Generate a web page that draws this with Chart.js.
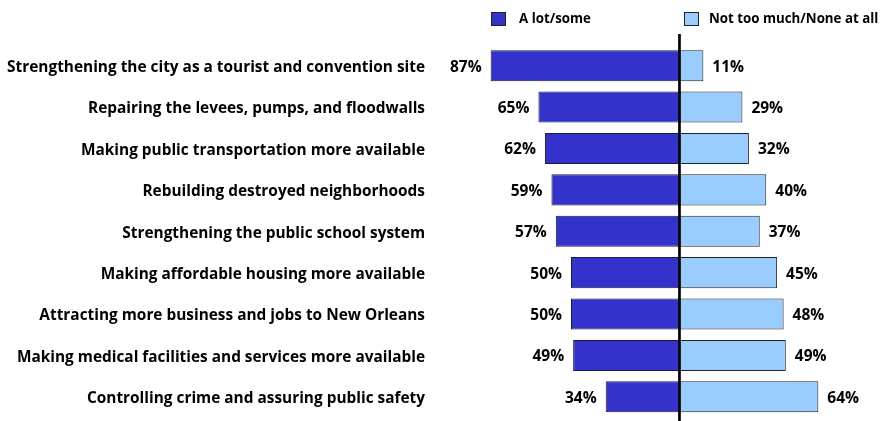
<!DOCTYPE html>
<html>
<head>
<meta charset="utf-8">
<script src="https://cdn.jsdelivr.net/npm/chart.js@4/dist/chart.umd.min.js"></script>
<style>
  html, body { margin: 0; padding: 0; background: #fff; }
  #wrap { width: 883px; height: 421px; }
</style>
</head>
<body>
<div id="wrap"><canvas id="chart"></canvas></div>
<script>
const categories = [
  'Strengthening the city as a tourist and convention site',
  'Repairing the levees, pumps, and floodwalls',
  'Making public transportation more available',
  'Rebuilding destroyed neighborhoods',
  'Strengthening the public school system',
  'Making affordable housing more available',
  'Attracting more business and jobs to New Orleans',
  'Making medical facilities and services more available',
  'Controlling crime and assuring public safety'
];
const aLotSome = [87, 65, 62, 59, 57, 50, 50, 49, 34];
const notMuchNone = [11, 29, 32, 40, 37, 45, 48, 49, 64];
const seriesNames = ['A lot/some', 'Not too much/None at all'];

const FONT = '"Open Sans", sans-serif';

// value labels next to each bar
const valueLabels = {
  id: 'valueLabels',
  afterDatasetsDraw(chart) {
    const ctx = chart.ctx;
    ctx.save();
    ctx.font = 'bold 15.5px ' + FONT;
    ctx.fillStyle = '#000';
    ctx.textBaseline = 'middle';
    chart.data.datasets.forEach((ds, i) => {
      chart.getDatasetMeta(i).data.forEach((bar, j) => {
        const v = Math.abs(ds.data[j]) + '%';
        if (ds.data[j] < 0) {
          ctx.textAlign = 'right';
          ctx.fillText(v, bar.x - 9, bar.y + 1.5);
        } else {
          ctx.textAlign = 'left';
          ctx.fillText(v, bar.x + 9, bar.y + 1.5);
        }
      });
    });
    ctx.restore();
  }
};

// center divider and legend at top
const extras = {
  id: 'extras',
  afterDraw(chart) {
    const ctx = chart.ctx;
    const x0 = chart.scales.x.getPixelForValue(0);
    ctx.save();
    ctx.strokeStyle = '#000';
    ctx.lineWidth = 2.7;
    ctx.beginPath();
    ctx.moveTo(x0, 34);
    ctx.lineTo(x0, 421);
    ctx.stroke();

    const items = [[491, 519], [684, 709]];
    ctx.font = 'bold 13.3px ' + FONT;
    ctx.textBaseline = 'middle';
    ctx.textAlign = 'left';
    chart.data.datasets.forEach((ds, i) => {
      ctx.fillStyle = ds.backgroundColor;
      ctx.fillRect(items[i][0], 12, 14, 13);
      ctx.strokeStyle = '#222';
      ctx.lineWidth = 1;
      ctx.strokeRect(items[i][0] + 0.5, 12.5, 14, 13);
      ctx.fillStyle = '#000';
      ctx.fillText(ds.label, items[i][1], 19);
    });
    ctx.restore();
  }
};

new Chart(document.getElementById('chart'), {
  type: 'bar',
  data: {
    labels: categories,
    datasets: [
      {
        label: seriesNames[0],
        data: aLotSome.map(v => -v),
        backgroundColor: '#3333CC',
        borderColor: '#1a1a40',
        borderWidth: 1,
        borderSkipped: false
      },
      {
        label: seriesNames[1],
        data: notMuchNone,
        backgroundColor: '#99CCFF',
        borderColor: '#222',
        borderWidth: 1,
        borderSkipped: false
      }
    ]
  },
  options: {
    indexAxis: 'y',
    responsive: true,
    maintainAspectRatio: false,
    animation: false,
    layout: { padding: { top: 45, bottom: 3.5, left: 0, right: 0 } },
    plugins: {
      legend: { display: false },
      tooltip: { enabled: false }
    },
    datasets: {
      bar: { barPercentage: 0.75, categoryPercentage: 1 }
    },
    scales: {
      x: {
        stacked: true,
        min: -114.05,
        max: 93.8,
        display: false
      },
      y: {
        stacked: true,
        afterFit(scale) {
          scale.width = 432;
          // labels sit mid-category, no need for extra end padding
          scale.paddingTop = 0;
          scale.paddingBottom = 0;
        },
        grid: { display: false, drawTicks: false },
        border: { display: false },
        ticks: {
          color: '#000',
          padding: 7,
          labelOffset: 2,
          font: { family: FONT, size: 15.4, weight: 'bold' }
        }
      }
    }
  },
  plugins: [valueLabels, extras]
});
</script>
</body>
</html>
